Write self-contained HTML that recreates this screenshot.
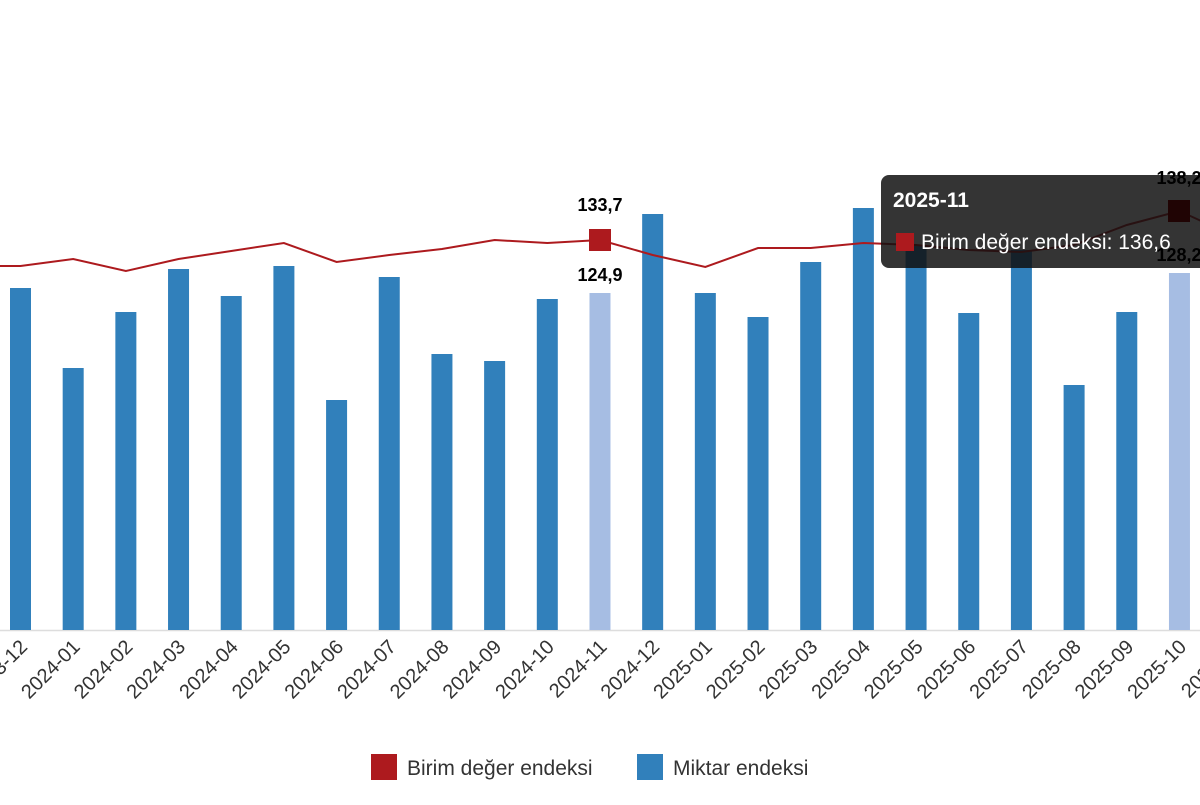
<!DOCTYPE html>
<html><head><meta charset="utf-8"><style>
body{margin:0;width:1200px;height:800px;background:#fff;overflow:hidden;font-family:"Liberation Sans",sans-serif}
</style></head><body>
<svg width="1200" height="800" xmlns="http://www.w3.org/2000/svg" font-family="Liberation Sans, sans-serif">
<line x1="0" y1="630.5" x2="1200" y2="630.5" stroke="#ddd" stroke-width="1.5"/>
<g id="bars"></g>
<g id="labels" fill="#333"></g>
<polyline id="ln" fill="none" stroke="#ad1a1e" stroke-width="2"/>
<rect x="589" y="229" width="22" height="22" fill="#ad1a1e"/>
<text x="600" y="211" font-size="18" font-weight="bold" text-anchor="middle">133,7</text>
<text x="600" y="281" font-size="18" font-weight="bold" text-anchor="middle">124,9</text>
<rect x="881" y="175" width="340" height="93" rx="8" fill="#111" fill-opacity="0.85"/>
<text x="1179" y="184" font-size="18" font-weight="bold" text-anchor="middle">138,2</text>
<text x="1179" y="261" font-size="18" font-weight="bold" text-anchor="middle">128,2</text>
<rect x="1168" y="200" width="22" height="22" fill="#200404"/>
<text x="893" y="207" font-size="21" font-weight="bold" fill="#fff">2025-11</text>
<rect x="896" y="233" width="18" height="18" fill="#ad1a1e"/>
<text x="921" y="249" font-size="21" fill="#fff">Birim değer endeksi: 136,6</text>
<rect x="371" y="754" width="26" height="26" fill="#ad1a1e"/>
<text x="407" y="775" font-size="21" fill="#333">Birim değer endeksi</text>
<rect x="637" y="754" width="26" height="26" fill="#3180bb"/>
<text x="673" y="775" font-size="21" fill="#333">Miktar endeksi</text>
</svg>
<script>
var tops=[288,368,312,269,296,266,400,277,354,361,299,293,214,293,317,262,208,245,313,250,385,312,273];
var ln=[266,259,271,259,251,243,262,255,249,240,243,240,255,267,248,248,243,245,250,252,245,225,211];
var labs=["2023-12","2024-01","2024-02","2024-03","2024-04","2024-05","2024-06","2024-07","2024-08","2024-09","2024-10","2024-11","2024-12","2025-01","2025-02","2025-03","2025-04","2025-05","2025-06","2025-07","2025-08","2025-09","2025-10","2025-11"];
var ns="http://www.w3.org/2000/svg",b=document.getElementById('bars'),L=document.getElementById('labels');
var pts="0,266 ";
for(var i=0;i<24;i++){var cx=20.5+i*52.68;
 if(i<23){var r=document.createElementNS(ns,'rect');r.setAttribute('x',cx-10.5);r.setAttribute('y',tops[i]);r.setAttribute('width',21);r.setAttribute('height',630-tops[i]);r.setAttribute('fill',(i==11||i==22)?'#a6bde3':'#3180bb');b.appendChild(r);pts+=cx+','+ln[i]+' ';}
 var t=document.createElementNS(ns,'text');t.setAttribute('transform','translate('+(cx+8)+',648) rotate(-45)');t.setAttribute('text-anchor','end');t.setAttribute('font-size','20');t.setAttribute('fill','#333');t.textContent=labs[i];L.appendChild(t);}
pts+="1210,225";
document.getElementById('ln').setAttribute('points',pts);
</script>
</body></html>
